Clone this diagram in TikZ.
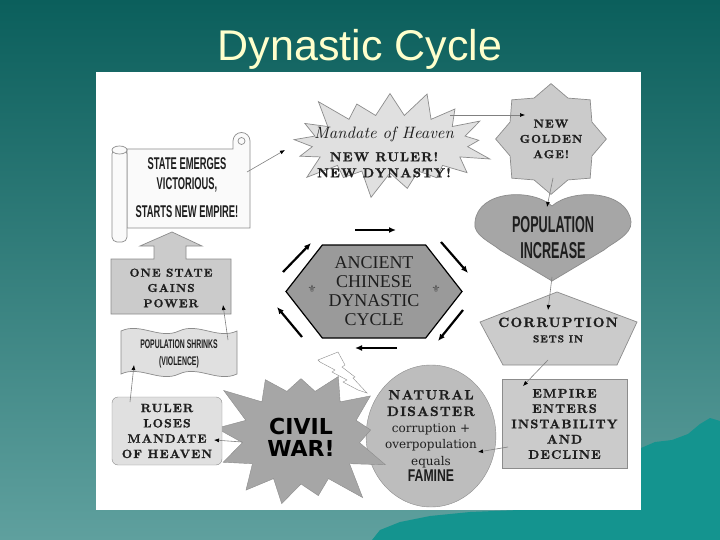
\documentclass[tikz,border=0pt]{standalone}
\usepackage{fontspec}
\usetikzlibrary{shapes.symbols,shapes.geometric,arrows.meta,calc}

\newfontfamily\titlefont{Liberation Sans}
\newfontfamily\condfont[FakeStretch=0.55]{Liberation Sans}
\newfontfamily\semicondfont[FakeStretch=0.72]{Liberation Sans}
\newfontfamily\heavyfont{DejaVu Sans}
\newfontfamily\wideserif{DejaVu Serif}
\newfontfamily\engravedfont{Liberation Serif}
\newfontfamily\spacedcaps[Extension=.otf,LetterSpace=9,FakeBold=1.2]{lmroman10-bold}
\newfontfamily\scriptlike[Extension=.otf]{lmroman10-italic}

\definecolor{slidetop}{HTML}{0B5F5C}
\definecolor{slidebot}{HTML}{5FA09E}
\definecolor{mountain}{HTML}{14948F}
\definecolor{titleyellow}{HTML}{FFFFCC}
\definecolor{edgegray}{HTML}{8C8C8C}
\definecolor{palegray}{HTML}{E0E0E0}
\definecolor{lightgray}{HTML}{CBCBCB}
\definecolor{midgray}{HTML}{BDBDBD}
\definecolor{darkgray}{HTML}{A6A6A6}
\definecolor{hexgray}{HTML}{9A9A9A}
\definecolor{inkgray}{HTML}{1E1E1E}

\tikzset{
  link/.style={draw=gray,line width=0.6pt,-{Latex[length=5pt,width=4pt,black]}},
  cyclearrow/.style={line width=2.2pt,black,-{Latex[length=7pt,width=6pt]}},
  shapeline/.style={draw=edgegray,line width=0.7pt},
  textbox/.style={align=center,text=inkgray,inner sep=0pt},
  capsfont/.style={font=\spacedcaps\fontsize{#1}{15.3}\selectfont},
}

\begin{document}
\begin{tikzpicture}[x=1pt,y=-1pt]
% slide
\shade[top color=slidetop,bottom color=slidebot] (0,0) rectangle (720,540);
\fill[mountain] (372,540) -- (380,530) -- (400,522) -- (430,516) -- (470,512) -- (641,505)
  -- (641,448) -- (655,442) -- (672,440) -- (688,434) -- (700,424) -- (710,418) -- (720,421) -- (720,540) -- cycle;
\useasboundingbox (0,0) rectangle (720,540);
\node[anchor=base,text=titleyellow,font=\titlefont\fontsize{43}{43}\selectfont] (title) at (360,61) {Dynastic Cycle};
\fill[white] (96,72) rectangle (641,510);

% top stars
\node[starburst,starburst points=17,starburst point height=30pt,fill=palegray,shapeline,
  minimum width=216pt,minimum height=118pt,inner sep=0pt] (mandate) at (390,144) {};
\node[textbox,font=\spacedcaps\fontsize{13}{16}\selectfont] (mandatetext) at (384,152)
  {{\scriptlike\fontsize{16.5}{18}\selectfont Mandate of Heaven}\\[7pt]NEW RULER!\\NEW DYNASTY!};
\node[star,star points=8,star point ratio=1.25,fill=lightgray,shapeline,minimum size=99pt,
  textbox,capsfont=11.5] (golden) at (551,139) {NEW\\GOLDEN\\AGE!};

% heart
\filldraw[fill=darkgray,shapeline] (552,206) .. controls (572,188) and (628,190) .. (631,222)
  .. controls (632,235) and (612,243) .. (604,250) -- (552,281) -- (500,250)
  .. controls (492,243) and (472,235) .. (475,222) .. controls (478,190) and (532,188) .. (552,206) -- cycle;
\node[textbox,minimum width=156pt,minimum height=86pt,font=\condfont\bfseries\fontsize{23}{26}\selectfont]
  (popinc) at (553,238) {POPULATION\\INCREASE};

% pentagon
\filldraw[fill=lightgray,shapeline] (557,292) -- (637,322) -- (617,365) -- (503,365) -- (480,322) -- cycle;
\node[textbox,minimum width=157pt,minimum height=73pt,capsfont=13.5] (corrupt) at (558,330)
  {CORRUPTION\\{\fontsize{10}{12}\selectfont SETS IN}};

\node[draw=edgegray,fill=lightgray,minimum width=125pt,minimum height=89pt,textbox,capsfont=12.5]
  (empire) at (564.5,424) {EMPIRE\\ENTERS\\INSTABILITY\\AND\\DECLINE};

\node[ellipse,fill=midgray,draw=edgegray,minimum width=126pt,minimum height=142pt,textbox,
  font=\wideserif\fontsize{12}{16.5}\selectfont] (natural) at (431,436)
  {{\spacedcaps\fontsize{13.5}{16}\selectfont NATURAL}\\{\spacedcaps\fontsize{13.5}{16}\selectfont DISASTER}\\corruption +\\overpopulation\\equals\\{\semicondfont\bfseries\fontsize{17}{17}\selectfont FAMINE}};

\node[starburst,starburst points=13,starburst point height=36pt,random starburst=3,fill=darkgray,
  draw=edgegray,minimum width=190pt,minimum height=166pt,textbox,text=black,
  font=\heavyfont\bfseries\fontsize{22}{22}\selectfont] (civil) at (301,437) {CIVIL\\WAR!};

% lightning
\filldraw[fill=white,draw=edgegray] (318,360) -- (338,352) -- (345,365) -- (342,367) -- (355,377)
  -- (353,378) -- (367,393) -- (358,390) -- (343,382) -- (347,380) -- (332,372) -- (335,370) -- (320,362) -- cycle;

\node[rounded corners=6pt,draw=edgegray,fill=palegray,minimum width=110pt,minimum height=68pt,
  textbox,capsfont=12] (ruler) at (167,431) {RULER\\LOSES\\MANDATE\\OF HEAVEN};

% banner
\filldraw[fill=palegray,shapeline] (121,331) .. controls (140,322) and (160,340) .. (179,331)
  .. controls (198,322) and (218,340) .. (237,331) -- (237,374)
  .. controls (218,383) and (198,365) .. (179,374) .. controls (160,383) and (140,365) .. (121,374) -- cycle;
\node[textbox,minimum width=116pt,minimum height=46pt,font=\condfont\bfseries\fontsize{12.5}{17}\selectfont]
  (shrinks) at (179,354) {POPULATION SHRINKS\\(VIOLENCE)};

% block arrow
\filldraw[fill=lightgray,shapeline] (111,314) -- (111,259) -- (154,259) -- (154,246) -- (140,246)
  -- (172,232) -- (202,246) -- (186,246) -- (186,259) -- (231,259) -- (231,314) -- cycle;
\node[textbox,minimum width=120pt,minimum height=55pt,capsfont=11.5] (onestate) at (171,288)
  {ONE STATE\\GAINS\\POWER};

% scroll
\filldraw[fill=white!96!gray,shapeline] (127,149) -- (233,149) -- (233,141)
  arc[start angle=180,end angle=360,radius=8.5] -- (250,228) -- (127,228) -- cycle;
\draw[shapeline] (241.5,141) circle[radius=3.5];
\filldraw[fill=white!96!gray,shapeline,rounded corners=5pt] (112,149) rectangle (127,242);
\filldraw[fill=white!96!gray,shapeline] (119.5,150) ellipse[x radius=7.5,y radius=4];
\node[textbox,minimum width=120pt,minimum height=78pt,font=\condfont\bfseries\fontsize{17}{20}\selectfont]
  (scroll) at (187,188) {STATE EMERGES\\VICTORIOUS,\\[8pt]STARTS NEW EMPIRE!};

% centre
\node[signal,signal to=east and west,signal pointer angle=104,fill=hexgray,draw=black,line width=1.2pt,
  minimum width=176pt,minimum height=93pt,textbox,font=\engravedfont\fontsize{18}{19}\selectfont]
  (hub) at (374,291.5) {ANCIENT\\CHINESE\\DYNASTIC\\CYCLE};
\node[text=inkgray!80,font=\heavyfont\fontsize{10}{10}\selectfont] (ornleft) at ($(hub)+(-62,-3)$) {⚜};
\node[text=inkgray!80,font=\heavyfont\fontsize{10}{10}\selectfont] (ornright) at ($(hub)+(62,-3)$) {⚜};

\foreach \n/\sx/\sy/\ex/\ey in {1/-19/-61.5/22/-61.5, 2/67/-49.5/94/-18.5, 3/89/18.5/64/49.5,
    4/23/56.5/-19/56.5, 5/-72/45.5/-97/15.5, 6/-91/-19.5/-63/-48.5}{
  \coordinate (cycstart\n) at ($(hub)+(\sx,\sy)$);
  \coordinate (cycend\n) at ($(hub)+(\ex,\ey)$);
  \draw[cyclearrow] (cycstart\n) -- (cycend\n);
}

% connectors
\draw[link] ($(scroll)+(60,-16)$) -- ($(mandate)+(-105,6)$);
\draw[link] ($(mandate)+(60,-29)$) -- ($(golden)+(-26,-24)$);
\draw[link] ($(golden)+(2,39)$) -- ($(popinc)+(-6,-31)$);
\draw[link] ($(popinc)+(-1,39)$) -- ($(corrupt)+(-10,-20)$);
\draw[link] ($(corrupt)+(-10,30)$) -- ($(empire)+(-41.5,-38)$);
\draw[link] ($(empire)+(-56.5,23)$) -- ($(natural)+(47,16)$);
\draw[link] ($(civil)+(-59,5)$) -- ($(ruler)+(47,9)$);
\draw[link] ($(ruler)+(-37,-29)$) -- ($(shrinks)+(-45,11)$);
\draw[link] ($(shrinks)+(49,-14)$) -- ($(onestate)+(52,17)$);
\end{tikzpicture}
\end{document}
